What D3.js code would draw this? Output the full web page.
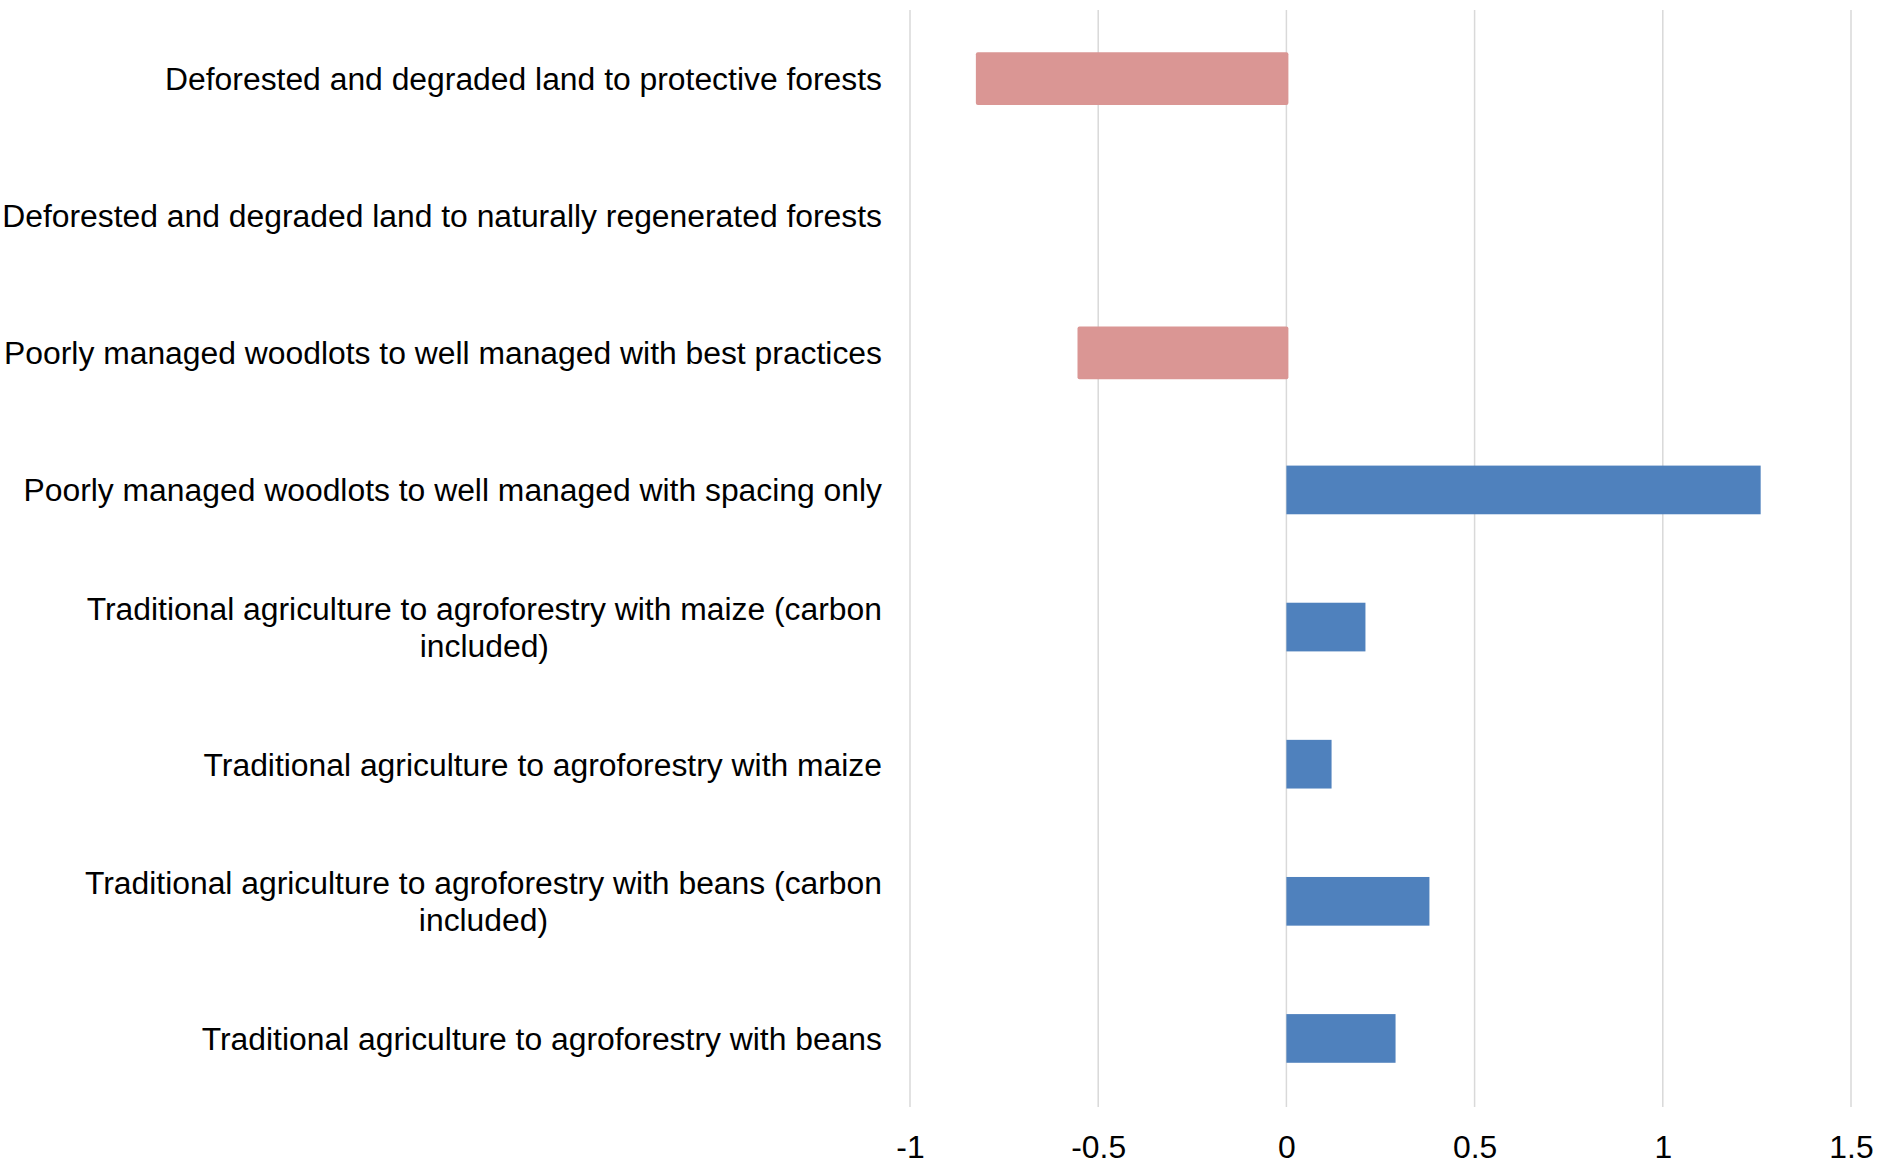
<!DOCTYPE html>
<html>
<head>
<meta charset="utf-8">
<script src="https://cdn.jsdelivr.net/npm/d3@7"></script>
<style>
  html, body { margin: 0; padding: 0; background: #ffffff; }
  svg { display: block; }
  text { font-family: "Liberation Sans", Arial, sans-serif; fill: #000; }
</style>
</head>
<body>
<svg id="chart" width="1883" height="1166"></svg>
<script>
// Land-use transitions, top to bottom
const categories = [
  "Deforested and degraded land to protective forests",
  "Deforested and degraded land to naturally regenerated forests",
  "Poorly managed woodlots to well managed with best practices",
  "Poorly managed woodlots to well managed with spacing only",
  "Traditional agriculture to agroforestry with maize (carbon included)",
  "Traditional agriculture to agroforestry with maize",
  "Traditional agriculture to agroforestry with beans (carbon included)",
  "Traditional agriculture to agroforestry with beans"
];
// Value per transition (null = no bar)
const values = [-0.825, null, -0.555, 1.26, 0.21, 0.12, 0.38, 0.29];
const xTicks = [-1, -0.5, 0, 0.5, 1, 1.5];
const xTickLabels = ["-1", "-0.5", "0", "0.5", "1", "1.5"];

const svg = d3.select("#chart");
const plot = { left: 910, right: 1851, top: 10, bottom: 1107 };
const fontSize = 31.85;
const wrapWidth = 900;

const x = d3.scaleLinear().domain([-1, 1.5]).range([plot.left, plot.right]);
const y = d3.scaleBand().domain(categories).range([plot.top, plot.bottom]).paddingInner(0).paddingOuter(0);

// vertical gridlines
svg.append("g").selectAll("line").data(xTicks).join("line")
  .attr("x1", d => x(d)).attr("x2", d => x(d))
  .attr("y1", plot.top).attr("y2", plot.bottom)
  .attr("stroke", "#d9d9d9").attr("stroke-width", 1.5);

// bars
const rows = categories.map((c, i) => ({ c, v: values[i] })).filter(d => d.v !== null);
const barH = y.bandwidth() * 0.355;
svg.append("g").selectAll("rect").data(rows).join("rect")
  .attr("x", d => x(Math.min(0, d.v)))
  .attr("width", d => Math.abs(x(d.v) - x(0)) + (d.v < 0 ? 2 : 0))
  .attr("y", d => y(d.c) + y.bandwidth() / 2 - (d.v < 0 ? barH / 2 + 2 : barH / 2))
  .attr("height", d => d.v < 0 ? barH + 4 : barH)
  .attr("rx", d => d.v < 0 ? 2 : 0)
  .attr("fill", d => d.v < 0 ? "#da9694" : "#4f81bd");

// x axis tick labels
const xAxis = d3.axisBottom(x).tickValues(xTicks).tickSize(0)
  .tickFormat((d, i) => xTickLabels[i]);
const gx = svg.append("g").attr("transform", `translate(0,${plot.bottom})`).call(xAxis);
gx.select(".domain").remove();
gx.selectAll("text")
  .attr("font-size", fontSize).attr("font-family", "Liberation Sans, Arial, sans-serif")
  .attr("fill", "#000").attr("dy", null).attr("y", 43).attr("dominant-baseline", "middle");

// category labels, wrapped and centred as a block, right-aligned to the plot
const labelRight = 882;
const lineH = 37;
const labelShift = 3.5;
const gy = svg.append("g");
const measure = svg.append("text").attr("font-size", fontSize).attr("visibility", "hidden");
function width(s) { measure.text(s); return measure.node().getComputedTextLength(); }

categories.forEach(cat => {
  const words = cat.split(" ");
  const lines = [];
  let cur = "";
  words.forEach(w => {
    const t = cur ? cur + " " + w : w;
    if (cur && width(t) > wrapWidth) { lines.push(cur); cur = w; } else { cur = t; }
  });
  lines.push(cur);
  const blockW = d3.max(lines, width);
  const cx = labelRight - blockW / 2;
  const cy = y(cat) + y.bandwidth() / 2 + labelShift;
  const t = gy.append("text").attr("font-size", fontSize).attr("text-anchor", "middle")
    .attr("dominant-baseline", "middle");
  lines.forEach((ln, i) => {
    t.append("tspan").attr("x", cx)
      .attr("y", cy + (i - (lines.length - 1) / 2) * lineH)
      .text(ln);
  });
});
measure.remove();
</script>
</body>
</html>
